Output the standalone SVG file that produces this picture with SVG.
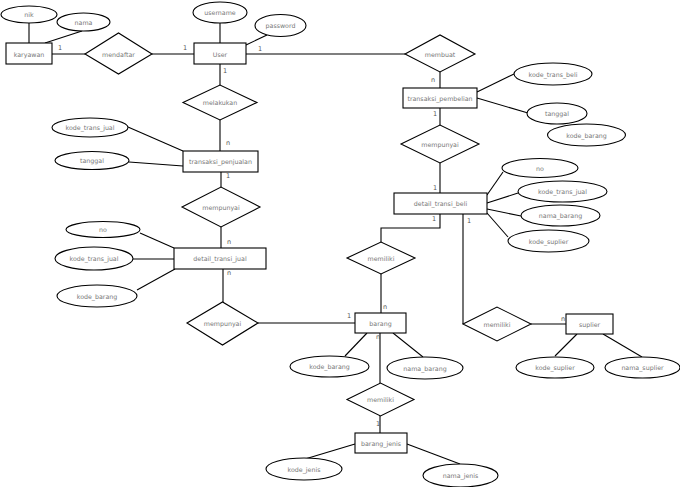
<svg xmlns="http://www.w3.org/2000/svg" width="680" height="487" viewBox="0 0 680 487">
<style>
.s{fill:#fff;stroke:#000;stroke-width:1.1}
.t{font-family:"DejaVu Sans",sans-serif;font-size:6.3px;fill:#777;text-anchor:middle;dominant-baseline:central}
.c{font-family:"DejaVu Sans",sans-serif;font-size:6.5px;fill:#555}
#connectors line,#connectors polyline{stroke:#000;stroke-width:1.1;fill:none}
</style>
<rect width="680" height="487" fill="#fff"/>
<g id="connectors">
<line x1="29" y1="23" x2="29" y2="43"/>
<line x1="82" y1="31" x2="45" y2="43"/>
<line x1="52" y1="54" x2="85" y2="54"/>
<line x1="152" y1="54" x2="194" y2="54"/>
<line x1="220" y1="22" x2="220" y2="43"/>
<line x1="267" y1="35" x2="246" y2="45"/>
<line x1="246" y1="54" x2="405" y2="54"/>
<line x1="220" y1="64" x2="220" y2="85"/>
<line x1="440" y1="72" x2="440" y2="88"/>
<line x1="477" y1="92" x2="514" y2="74"/>
<line x1="477" y1="98" x2="528" y2="113"/>
<line x1="440" y1="108" x2="440" y2="125"/>
<line x1="440" y1="163" x2="440" y2="193"/>
<line x1="487" y1="195" x2="503" y2="172"/>
<line x1="487" y1="203" x2="518" y2="193"/>
<line x1="487" y1="209" x2="521" y2="216"/>
<line x1="487" y1="213" x2="508" y2="237"/>
<polyline points="440,214 440,228 381,228 381,242"/>
<line x1="381" y1="274" x2="381" y2="313"/>
<line x1="463" y1="214" x2="463" y2="324"/>
<line x1="531" y1="324" x2="566" y2="324"/>
<line x1="577" y1="334" x2="555" y2="356"/>
<line x1="603" y1="334" x2="642" y2="357"/>
<line x1="220" y1="120" x2="220" y2="151"/>
<line x1="128" y1="127" x2="183" y2="151"/>
<line x1="129" y1="162" x2="183" y2="166"/>
<line x1="221" y1="172" x2="221" y2="187"/>
<line x1="221" y1="227" x2="221" y2="248"/>
<line x1="140" y1="233" x2="174" y2="248"/>
<line x1="133" y1="259" x2="174" y2="259"/>
<line x1="137" y1="290" x2="175" y2="269"/>
<line x1="223" y1="269" x2="223" y2="302"/>
<line x1="258" y1="323" x2="355" y2="323"/>
<line x1="367" y1="333" x2="345" y2="356"/>
<line x1="393" y1="333" x2="423" y2="357"/>
<line x1="380" y1="333" x2="380" y2="383"/>
<line x1="380" y1="416" x2="380" y2="433"/>
<line x1="355" y1="444" x2="305" y2="459"/>
<line x1="407" y1="444" x2="460" y2="464"/>
</g>
<g id="cardinalities">
<text class="c" x="58" y="50">1</text>
<text class="c" x="183" y="50">1</text>
<text class="c" x="258" y="51">1</text>
<text class="c" x="223" y="73">1</text>
<text class="c" x="431" y="82">n</text>
<text class="c" x="433" y="116">1</text>
<text class="c" x="433" y="190">1</text>
<text class="c" x="432" y="221">1</text>
<text class="c" x="467" y="223">1</text>
<text class="c" x="226" y="145">n</text>
<text class="c" x="226" y="178">1</text>
<text class="c" x="227" y="244">n</text>
<text class="c" x="227" y="275">n</text>
<text class="c" x="347" y="318">1</text>
<text class="c" x="383" y="309">n</text>
<text class="c" x="376" y="339">n</text>
<text class="c" x="376" y="426">1</text>
<text class="c" x="561" y="321">n</text>
</g>
<g id="karyawan"><rect class="s" x="6" y="43" width="46" height="21"/><text class="t" x="29" y="54">karyawan</text></g>
<g id="nik"><ellipse class="s" cx="29" cy="14.5" rx="28" ry="8.5"/><text class="t" x="29" y="14.5">nik</text></g>
<g id="nama"><ellipse class="s" cx="83.5" cy="22" rx="26.5" ry="9"/><text class="t" x="83.5" y="22">nama</text></g>
<g id="mendaftar"><polygon class="s" points="85,54 118.5,33 152,54 118.5,74"/><text class="t" x="118.5" y="54">mendaftar</text></g>
<g id="user"><rect class="s" x="194" y="43" width="52" height="21"/><text class="t" x="220" y="54">User</text></g>
<g id="username"><ellipse class="s" cx="220" cy="12.5" rx="27" ry="10.5"/><text class="t" x="220" y="12.5">username</text></g>
<g id="password"><ellipse class="s" cx="280.5" cy="25.5" rx="25.5" ry="11"/><text class="t" x="280.5" y="25.5">password</text></g>
<g id="membuat"><polygon class="s" points="405,54 440,35 475,54 440,72"/><text class="t" x="440" y="54">membuat</text></g>
<g id="transaksi_pembelian"><rect class="s" x="403" y="88" width="74" height="20"/><text class="t" x="440" y="98">transaksi_pembelian</text></g>
<g id="kode_trans_beli"><ellipse class="s" cx="553" cy="74" rx="39" ry="11"/><text class="t" x="553" y="74">kode_trans_beli</text></g>
<g id="tanggal_beli"><ellipse class="s" cx="557" cy="113.5" rx="30" ry="10.5"/><text class="t" x="557" y="113.5">tanggal</text></g>
<g id="kode_barang_beli"><ellipse class="s" cx="586.5" cy="135" rx="39" ry="11"/><text class="t" x="586.5" y="135">kode_barang</text></g>
<g id="mempunyai_beli"><polygon class="s" points="401,144 440,125 479,144 440,163"/><text class="t" x="440" y="144">mempunyai</text></g>
<g id="detail_transi_beli"><rect class="s" x="394" y="193" width="93" height="21"/><text class="t" x="440.5" y="203.5">detail_transi_beli</text></g>
<g id="no_beli"><ellipse class="s" cx="540" cy="168" rx="38" ry="9.5"/><text class="t" x="540" y="168">no</text></g>
<g id="kode_trans_jual_beli"><ellipse class="s" cx="562.5" cy="191.5" rx="44.5" ry="10.5"/><text class="t" x="562.5" y="191.5">kode_trans_jual</text></g>
<g id="nama_barang_beli"><ellipse class="s" cx="560.5" cy="215.5" rx="39.5" ry="10.5"/><text class="t" x="560.5" y="215.5">nama_barang</text></g>
<g id="kode_suplier_beli"><ellipse class="s" cx="548.5" cy="241" rx="40.5" ry="11"/><text class="t" x="548.5" y="241">kode_suplier</text></g>
<g id="memiliki_beli"><polygon class="s" points="347,258 381,242 415,258 381,274"/><text class="t" x="381" y="258">memiliki</text></g>
<g id="memiliki_suplier"><polygon class="s" points="463,324 497,307 531,324 497,341"/><text class="t" x="497" y="324">memiliki</text></g>
<g id="suplier"><rect class="s" x="566" y="314" width="47" height="20"/><text class="t" x="589.5" y="324">suplier</text></g>
<g id="kode_suplier"><ellipse class="s" cx="555" cy="367.5" rx="39" ry="10.5"/><text class="t" x="555" y="367.5">kode_suplier</text></g>
<g id="nama_suplier"><ellipse class="s" cx="642.5" cy="367.5" rx="37.5" ry="10.5"/><text class="t" x="642.5" y="367.5">nama_suplier</text></g>
<g id="melakukan"><polygon class="s" points="183,102.5 220,85 257,102.5 220,120"/><text class="t" x="220" y="102.5">melakukan</text></g>
<g id="transaksi_penjualan"><rect class="s" x="183" y="151" width="75" height="21"/><text class="t" x="220.5" y="161.5">transaksi_penjualan</text></g>
<g id="kode_trans_jual"><ellipse class="s" cx="90" cy="127.5" rx="38" ry="9.5"/><text class="t" x="90" y="127.5">kode_trans_jual</text></g>
<g id="tanggal_jual"><ellipse class="s" cx="92" cy="160.5" rx="37" ry="9"/><text class="t" x="92" y="160.5">tanggal</text></g>
<g id="mempunyai_jual"><polygon class="s" points="182,207 221,187 260,207 221,227"/><text class="t" x="221" y="207">mempunyai</text></g>
<g id="detail_transi_jual"><rect class="s" x="174" y="248" width="92" height="21"/><text class="t" x="220" y="258.5">detail_transi_jual</text></g>
<g id="no_jual"><ellipse class="s" cx="103" cy="229.5" rx="37" ry="8"/><text class="t" x="103" y="229.5">no</text></g>
<g id="kode_trans_jual_detail"><ellipse class="s" cx="94" cy="258.5" rx="39" ry="11.5"/><text class="t" x="94" y="258.5">kode_trans_jual</text></g>
<g id="kode_barang_jual"><ellipse class="s" cx="97" cy="296" rx="40" ry="11"/><text class="t" x="97" y="296">kode_barang</text></g>
<g id="mempunyai_barang"><polygon class="s" points="187,323 222.5,302 258,323 222.5,345"/><text class="t" x="222.5" y="323">mempunyai</text></g>
<g id="barang"><rect class="s" x="355" y="313" width="51" height="20"/><text class="t" x="380.5" y="323">barang</text></g>
<g id="kode_barang"><ellipse class="s" cx="329.5" cy="366.5" rx="39.5" ry="10.5"/><text class="t" x="329.5" y="366.5">kode_barang</text></g>
<g id="nama_barang"><ellipse class="s" cx="425" cy="368" rx="38" ry="11"/><text class="t" x="425" y="368">nama_barang</text></g>
<g id="memiliki_jenis"><polygon class="s" points="347,399.5 380.5,383 414,399.5 380.5,416"/><text class="t" x="380.5" y="399.5">memiliki</text></g>
<g id="barang_jenis"><rect class="s" x="355" y="433" width="52" height="20"/><text class="t" x="381" y="443">barang_jenis</text></g>
<g id="kode_jenis"><ellipse class="s" cx="304" cy="469" rx="38" ry="11"/><text class="t" x="304" y="469">kode_jenis</text></g>
<g id="nama_jenis"><ellipse class="s" cx="460.5" cy="475.5" rx="37.5" ry="11.5"/><text class="t" x="460.5" y="475.5">nama_jenis</text></g>
</svg>
